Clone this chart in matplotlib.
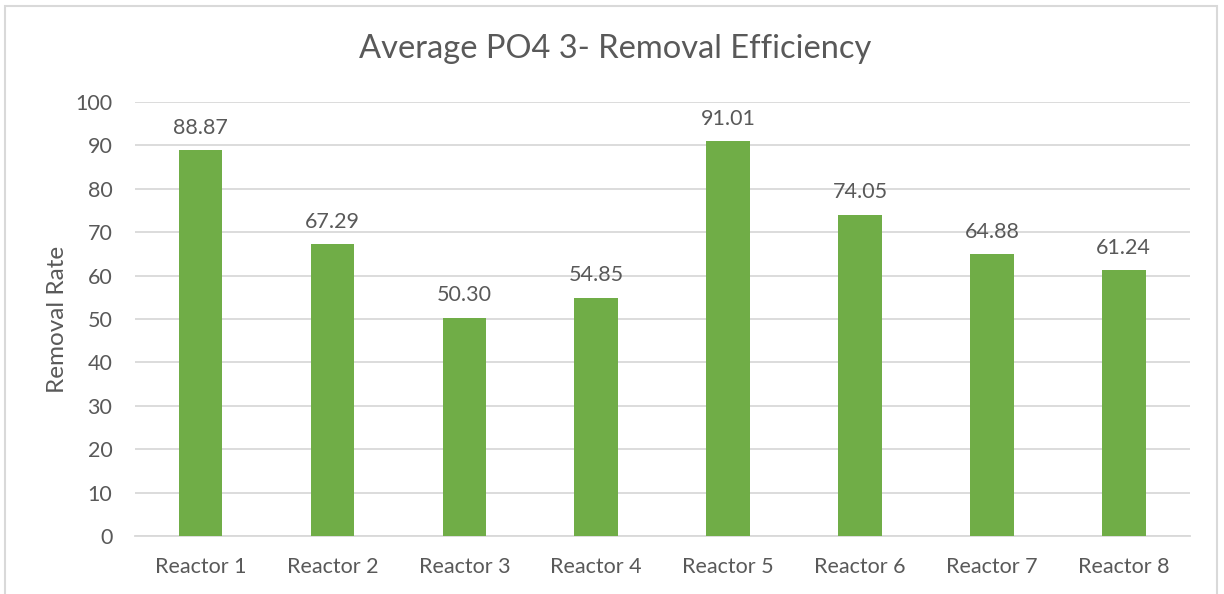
import matplotlib
matplotlib.use('Agg')
import matplotlib.pyplot as plt
from matplotlib.patches import Rectangle

reactors = ['Reactor 1', 'Reactor 2', 'Reactor 3', 'Reactor 4',
            'Reactor 5', 'Reactor 6', 'Reactor 7', 'Reactor 8']
removal = [88.87, 67.29, 50.30, 54.85, 91.01, 74.05, 64.88, 61.24]
yticks = list(range(0, 101, 10))

plt.rcParams['font.family'] = ['Lato', 'DejaVu Sans']
txt_col = '#595959'
grid_col = '#d9d9d9'

fig = plt.figure(figsize=(12.24, 5.94), dpi=100)
ax = fig.add_axes([0.110, 0.0976, 0.862, 0.7306])

x = range(len(reactors))
bars = ax.bar(x, removal, width=0.33, color='#70ad47', zorder=3)
for xi, v in zip(x, removal):
    ax.annotate('%.2f' % v, (xi, v), xytext=(0, 9), textcoords='offset points',
                ha='center', va='bottom', fontsize=15.5, color=txt_col)

ax.set_xlim(-0.5, len(reactors) - 0.5)
ax.set_ylim(0, 100)
ax.set_yticks(yticks)
ax.set_yticklabels([str(t) for t in yticks], fontsize=15.5, color=txt_col)
ax.set_xticks(list(x))
ax.set_xticklabels(reactors, fontsize=15.5, color=txt_col)
ax.tick_params(axis='y', length=0, pad=16)
ax.tick_params(axis='x', length=0, pad=15)
ax.grid(axis='y', color=grid_col, linewidth=1.3, zorder=0)
for s in ['top', 'right', 'left']:
    ax.spines[s].set_visible(False)
ax.spines['bottom'].set_color(grid_col)
ax.spines['bottom'].set_linewidth(1.3)
ax.set_ylabel('Removal Rate', fontsize=17.5, color=txt_col, labelpad=5)

fig.text(0.503, 0.917, 'Average PO4 3- Removal Efficiency', ha='center',
         va='center', fontsize=23.5, color=txt_col)

# chart border
fig.patches.append(Rectangle((5 / 1224, -0.05), 1212 / 1224, 1.05 - 6 / 594,
                             transform=fig.transFigure, fill=False,
                             edgecolor='#d9d9d9', linewidth=1.5))

fig.savefig('out.png', dpi=100)
